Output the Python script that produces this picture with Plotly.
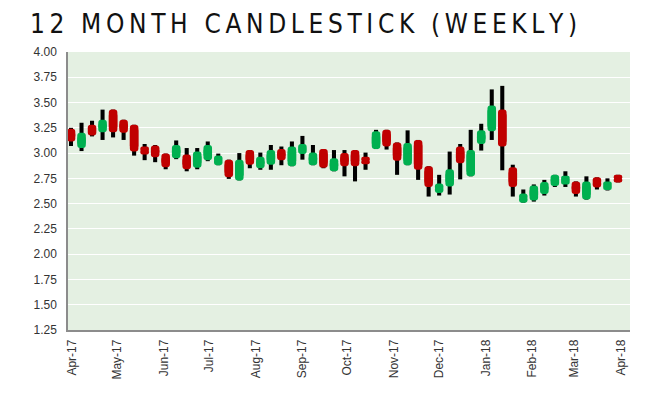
import plotly.graph_objects as go
import pandas as pd

# Weekly OHLC data (Apr-17 .. Mar-18)
week_start = "2017-03-31"
n_weeks = 53
opens = [3.24, 3.05, 3.28, 3.205, 3.43, 3.33, 3.28, 3.065, 3.075, 2.995,
         2.95, 2.985, 2.855, 2.93, 2.88, 2.935, 2.73, 3.03, 2.85, 2.885,
         3.04, 2.87, 2.99, 2.88, 3.04, 2.82, 3.00, 3.03, 2.965, 3.04,
         3.23, 3.105, 2.88, 3.13, 2.87, 2.605, 2.67, 3.065, 2.77, 3.09,
         3.215, 3.43, 2.86, 2.51, 2.53, 2.595, 2.675, 2.69, 2.72, 2.54,
         2.76, 2.635, 2.785]
highs = [3.25, 3.30, 3.32, 3.43, 3.43, 3.33, 3.28, 3.09, 3.08, 2.995,
         3.125, 3.05, 3.05, 3.115, 2.995, 2.935, 3.00, 3.03, 3.005, 3.08,
         3.065, 3.115, 3.17, 3.08, 3.04, 3.03, 3.03, 3.03, 3.005, 3.23,
         3.23, 3.105, 3.225, 3.13, 2.87, 2.785, 3.015, 3.09, 3.23, 3.29,
         3.63, 3.665, 2.885, 2.64, 2.69, 2.735, 2.785, 2.82, 2.72, 2.77,
         2.76, 2.75, 2.785]
lows = [3.07, 3.02, 3.165, 3.13, 3.155, 3.13, 2.975, 2.93, 2.91, 2.84,
        2.94, 2.82, 2.84, 2.92, 2.88, 2.745, 2.73, 2.85, 2.835, 2.835,
        2.88, 2.87, 2.935, 2.88, 2.85, 2.82, 2.77, 2.72, 2.835, 3.04,
        3.035, 2.785, 2.88, 2.735, 2.57, 2.58, 2.59, 2.74, 2.77, 3.025,
        3.13, 2.83, 2.57, 2.51, 2.52, 2.58, 2.665, 2.665, 2.57, 2.54,
        2.64, 2.63, 2.71]
closes = [3.115, 3.20, 3.175, 3.33, 3.205, 3.20, 3.015, 2.985, 2.96, 2.86,
          3.08, 2.84, 3.015, 3.08, 2.975, 2.76, 2.935, 2.885, 2.965, 3.03,
          2.93, 3.065, 3.09, 3.005, 2.855, 2.95, 2.87, 2.87, 2.89, 3.215,
          3.065, 2.925, 3.10, 2.835, 2.665, 2.70, 2.84, 2.90, 3.03, 3.225,
          3.47, 3.065, 2.665, 2.60, 2.68, 2.715, 2.785, 2.775, 2.595, 2.72,
          2.66, 2.72, 2.71]

y_ticks = [1.25, 1.50, 1.75, 2.00, 2.25, 2.50, 2.75, 3.00, 3.25, 3.50, 3.75, 4.00]

GREEN = "#00b050"
RED = "#c00000"
DAY_MS = 86400000
CORNER = 0.03  # rounding length in data units (about 3px)

dates = pd.date_range(week_start, periods=n_weeks, freq="7D")
tops = [max(o, c) for o, c in zip(opens, closes)]
bottoms = [min(o, c) for o, c in zip(opens, closes)]
overlap = [min(CORNER, (t - b) / 2) for t, b in zip(tops, bottoms)]
colors = [GREEN if c >= o else RED for o, c in zip(opens, closes)]
ranges = [h - l for h, l in zip(highs, lows)]

fig = go.Figure()
# high-low wicks
fig.add_trace(go.Bar(x=dates, y=ranges, base=lows, width=2.7 * DAY_MS,
                     marker=dict(color="black", line=dict(width=0)),
                     hoverinfo="skip", showlegend=False))
# bodies: two overlapping bars so that both ends are rounded
body_marker = dict(color=colors, line=dict(width=0), cornerradius=3)
up_base = [b + ov for b, ov in zip(bottoms, overlap)]
fig.add_trace(go.Bar(x=dates, y=[t - ub for t, ub in zip(tops, up_base)], base=up_base,
                     width=5.7 * DAY_MS, marker=body_marker, showlegend=False, hoverinfo="skip"))
dn_base = [t - ov for t, ov in zip(tops, overlap)]
fig.add_trace(go.Bar(x=dates, y=[b - db for b, db in zip(bottoms, dn_base)], base=dn_base,
                     width=5.7 * DAY_MS, marker=body_marker, showlegend=False, hoverinfo="skip"))

title_text = "\u200a\u200a".join("12 MONTH CANDLESTICK (WEEKLY)")

W, H = 649, 389  # page adds an 8px body margin
fig.update_layout(
    width=W, height=H,
    barmode="overlay",
    paper_bgcolor="white",
    plot_bgcolor="#e4f0e2",
    margin=dict(l=60, r=27, t=44, b=67),
    title=dict(text=title_text, xref="container", yref="container",
               x=22 / W, xanchor="left", y=1 - 16 / H, yanchor="middle",
               font=dict(family="DejaVu Sans Condensed, sans-serif",
                         size=26, color="#111111")),
    showlegend=False,
    font=dict(family="Liberation Sans, Arial, sans-serif", size=12, color="#333333"),
)
fig.update_xaxes(
    type="date", range=["2017-03-29", "2018-04-07"],
    tick0="2017-04-01", dtick="M1", tickformat="%b-%y", tickangle=-90,
    showgrid=False, zeroline=False, showline=True, linecolor="#8c8c8c", linewidth=1.5,
    ticks="", ticklabelstandoff=3,
)
fig.update_yaxes(
    range=[1.25, 4.0], tickvals=y_ticks, tickformat=".2f",
    showgrid=True, gridcolor="white", gridwidth=1.3, zeroline=False,
    showline=True, linecolor="#8c8c8c", linewidth=1.5, ticks="", ticklabelstandoff=7,
)

fig.write_html("out.html")
